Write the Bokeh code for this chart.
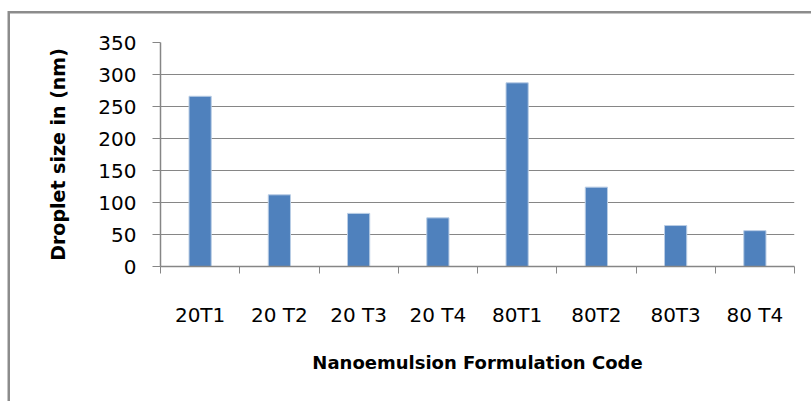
from bokeh.plotting import figure
from bokeh.models import Range1d, FixedTicker, ColumnDataSource
from bokeh.embed import file_html
from bokeh.resources import INLINE

# ---- data ----
categories = ["20T1", "20 T2", "20 T3", "20 T4", "80T1", "80T2", "80T3", "80 T4"]
droplet_size = [266, 112, 83, 76, 287, 124, 64, 56]
y_ticks = [0, 50, 100, 150, 200, 250, 300, 350]
x_title = "Nanoemulsion Formulation Code"
y_title = "Droplet size in (nm)"

centers = [i + 0.5 for i in range(len(categories))]
bounds = [i for i in range(len(categories) + 1)]

FONT = "DejaVu Sans"
GRAY = "#868686"

p = figure(width=811, height=401, output_backend="svg", toolbar_location=None,
           x_range=Range1d(0, len(categories)), y_range=Range1d(0, 350),
           min_border_left=160, min_border_right=17, min_border_top=42, min_border_bottom=135)
p.outline_line_color = None
p.background_fill_color = "white"
p.border_fill_color = None
# chart-area border: only its top and left edges fall inside the window
p.styles = {
    "background-color": "white",
    "box-shadow": "inset 7.5px 11px 0 0 white, inset 10px 13.5px 0 0 #8c8c8c",
}

src = ColumnDataSource(dict(x=centers, top=droplet_size, cat=categories))
p.vbar(x="x", top="top", bottom=0, width=0.28, source=src,
       fill_color="#4F81BD", line_color="#B9CDE5", line_width=1)

# grid
p.xgrid.visible = False
p.ygrid.ticker = FixedTicker(ticks=y_ticks)
p.ygrid.grid_line_color = GRAY
p.ygrid.grid_line_width = 1

# x axis
xa = p.xaxis[0]
xa.ticker = FixedTicker(ticks=centers, minor_ticks=bounds)
xa.major_label_overrides = {c: lab for c, lab in zip(centers, categories)}
xa.major_tick_line_color = None
xa.major_tick_out = 0
xa.major_tick_in = 0
xa.minor_tick_out = 7
xa.minor_tick_in = 0
xa.minor_tick_line_color = GRAY
xa.axis_line_color = GRAY
xa.axis_line_width = 1.5
xa.major_label_text_font = FONT
xa.major_label_text_font_size = "20px"
xa.major_label_text_color = "black"
xa.major_label_standoff = 29
xa.axis_label = x_title
xa.axis_label_text_font = FONT
xa.axis_label_text_font_style = "bold"
xa.axis_label_text_font_size = "18px"
xa.axis_label_text_color = "black"
xa.axis_label_standoff = 22

# y axis
ya = p.yaxis[0]
ya.ticker = FixedTicker(ticks=y_ticks)
ya.major_tick_out = 8
ya.major_tick_in = 0
ya.minor_tick_line_color = None
ya.major_tick_line_color = GRAY
ya.axis_line_color = GRAY
ya.axis_line_width = 1.5
ya.major_label_text_font = FONT
ya.major_label_text_font_size = "20px"
ya.major_label_text_color = "black"
ya.major_label_standoff = 16
ya.axis_label = y_title
ya.axis_label_text_font = FONT
ya.axis_label_text_font_style = "bold"
ya.axis_label_text_font_size = "19px"
ya.axis_label_text_color = "black"
ya.axis_label_standoff = 26

open("out.html", "w").write(file_html(p, INLINE))
